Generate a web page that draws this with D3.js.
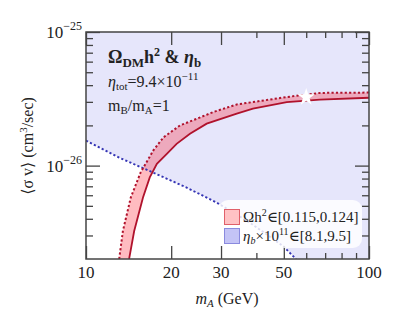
<!DOCTYPE html>
<html><head><meta charset="utf-8">
<script src="https://cdn.jsdelivr.net/npm/d3@7"></script>
<style>
body{margin:0;background:#fff}
svg text, svg tspan{font-family:"Liberation Serif","Times New Roman","DejaVu Serif",serif;fill:#222}
</style>
</head><body>
<svg id="c" width="399" height="319" font-family="Liberation Serif, DejaVu Serif, serif"></svg>
<script>
// ---- data ----
// relic band edge, upper/left (dotted)
const relicDotM  = [13.1,13.5,14.4,15.6,17.3,18.8,21.5,24.6,28.2,34.1,38.9,51.2,67.1,100];
const relicDotSV = [2.0e-27,3.24e-27,5.78e-27,8.9e-27,1.30e-26,1.63e-26,2.0e-26,2.24e-26,2.52e-26,2.87e-26,2.99e-26,3.26e-26,3.50e-26,3.52e-26];
// relic band edge, lower/right (solid)
const relicSolM  = [14.2,14.8,15.9,16.8,17.8,19.3,20.9,23.3,26.7,34.1,38.9,51.2,67.1,100];
const relicSolSV = [2.0e-27,3.24e-27,5.78e-27,8.17e-27,1.03e-26,1.225e-26,1.456e-26,1.73e-26,2.06e-26,2.45e-26,2.67e-26,2.99e-26,3.12e-26,3.22e-26];
// eta_b boundary (blue dotted)
const etaM  = [10,13.1,17.2,22.6,28.9,38.0,49.7,55.2];
const etaSV = [1.54e-26,1.148e-26,8.9e-27,6.87e-27,5.3e-27,3.73e-27,2.5e-27,2.0e-27];
// benchmark star
const starM = [60], starSV = [3.25e-26];
// ticks
const xMajor = [10,20,30,50,100];
const xMinor = [40,60,70,80,90];
const yMajor = [1e-26,1e-25];
const yMinor = [3e-27,4e-27,5e-27,6e-27,7e-27,8e-27,9e-27,2e-26,3e-26,4e-26,5e-26,6e-26,7e-26,8e-26,9e-26];
const yLabelExp = ["−26","−25"];

// ---- layout ----
const L=86,R=369,T=32,B=259;
const svg=d3.select("#c");
const x=d3.scaleLog().domain([10,100]).range([L,R]);
const y=d3.scaleLog().domain([2e-27,1e-25]).range([B,T]);

svg.append("clipPath").attr("id","clip").append("rect")
  .attr("x",L).attr("y",T).attr("width",R-L).attr("height",B-T);
const g=svg.append("g").attr("clip-path","url(#clip)");

g.append("rect").attr("x",L).attr("y",T).attr("width",R-L).attr("height",B-T).attr("fill","#fff");

const zip=(a,b)=>a.map((v,i)=>[v,b[i]]);
const line=d3.line().x(d=>x(d[0])).y(d=>y(d[1]));

// eta region (above blue line)
const etaPts=zip(etaM,etaSV);
const xd=x.domain(), yd=y.domain();
const etaPoly=etaPts.concat([[xd[1],yd[0]],[xd[1],yd[1]],[xd[0],yd[1]]]);
g.append("path").attr("d",line(etaPoly)+"Z").attr("fill","#e6e6fb");

// relic band
const dotPts=zip(relicDotM,relicDotSV), solPts=zip(relicSolM,relicSolSV);
g.append("path").attr("d",line(dotPts.concat(solPts.slice().reverse()))+"Z")
  .attr("fill","rgba(255,10,30,0.28)");

// lines
g.append("path").attr("d",line(etaPts)).attr("fill","none")
  .attr("stroke","#3434b4").attr("stroke-width",1.9).attr("stroke-dasharray","2.2,2.2");
g.append("path").attr("d",line(solPts)).attr("fill","none")
  .attr("stroke","#b0122c").attr("stroke-width",1.8);
g.append("path").attr("d",line(dotPts)).attr("fill","none")
  .attr("stroke","#b0122c").attr("stroke-width",2).attr("stroke-dasharray","2.2,2.2");

// star
g.selectAll(".star").data(zip(starM,starSV)).enter().append("path")
  .attr("d",d3.symbol().type(d3.symbolStar).size(95))
  .attr("transform",d=>`translate(${x(d[0])},${y(d[1])})`)
  .attr("fill","#fff");

// ---- axes ----
function styleAx(sel){sel.select(".domain").remove();
  sel.selectAll("line").attr("stroke","#444").attr("stroke-width",1.3);
  sel.selectAll("text").remove();}
svg.append("g").attr("transform",`translate(0,${B})`).call(d3.axisBottom(x).tickValues(xMajor).tickSize(-13)).call(styleAx);
svg.append("g").attr("transform",`translate(0,${B})`).call(d3.axisBottom(x).tickValues(xMinor).tickSize(-6)).call(styleAx);
svg.append("g").attr("transform",`translate(0,${T})`).call(d3.axisTop(x).tickValues(xMajor).tickSize(-13)).call(styleAx);
svg.append("g").attr("transform",`translate(0,${T})`).call(d3.axisTop(x).tickValues(xMinor).tickSize(-6)).call(styleAx);
svg.append("g").attr("transform",`translate(${L},0)`).call(d3.axisLeft(y).tickValues(yMajor).tickSize(-14)).call(styleAx);
svg.append("g").attr("transform",`translate(${L},0)`).call(d3.axisLeft(y).tickValues(yMinor).tickSize(-7)).call(styleAx);
svg.append("g").attr("transform",`translate(${R},0)`).call(d3.axisRight(y).tickValues(yMajor).tickSize(-14)).call(styleAx);
svg.append("g").attr("transform",`translate(${R},0)`).call(d3.axisRight(y).tickValues(yMinor).tickSize(-7)).call(styleAx);

svg.append("rect").attr("x",L).attr("y",T).attr("width",R-L).attr("height",B-T)
  .attr("fill","none").attr("stroke","#444").attr("stroke-width",1.5);

// x tick labels
svg.selectAll(".xl").data(xMajor).enter().append("text")
  .attr("x",d=>x(d)).attr("y",B+19).attr("text-anchor","middle")
  .attr("font-size",17).text(d=>d);
// y tick labels
yMajor.forEach((v,i)=>{
  const t=svg.append("text").attr("x",L-4).attr("y",y(v)+6).attr("text-anchor","end").attr("font-size",17);
  t.append("tspan").text("10");
  t.append("tspan").attr("font-size",12).attr("dy",-8).text(yLabelExp[i]);
});

// axis titles
const xt=svg.append("text").attr("x",227).attr("y",304).attr("text-anchor","middle").attr("font-size",16);
xt.append("tspan").attr("font-style","italic").text("m");
xt.append("tspan").attr("font-style","italic").attr("font-size",11).attr("dy",3).text("A");
xt.append("tspan").attr("dy",-3).text(" (GeV)");

const yt=svg.append("text").attr("transform","translate(33,146) rotate(-90)").attr("text-anchor","middle").attr("font-size",16);
yt.append("tspan").text("⟨σ v⟩ (cm");
yt.append("tspan").attr("font-size",11).attr("dy",-6).text("3");
yt.append("tspan").attr("dy",6).text("/sec)");

// annotations
const t1=svg.append("text").attr("x",108).attr("y",63).attr("font-size",18).attr("font-weight","bold");
t1.append("tspan").text("Ω");
t1.append("tspan").attr("font-size",13).attr("dy",4).text("DM");
t1.append("tspan").attr("dy",-4).text("h");
t1.append("tspan").attr("font-size",12).attr("dy",-7).text("2");
t1.append("tspan").attr("dy",7).text(" & ");
t1.append("tspan").attr("font-style","italic").text("η");
t1.append("tspan").attr("font-size",13).attr("dy",4).text("b");

const t2=svg.append("text").attr("x",108).attr("y",87).attr("font-size",16);
t2.append("tspan").attr("font-style","italic").text("η");
t2.append("tspan").attr("font-size",11).attr("dy",3).text("tot");
t2.append("tspan").attr("dy",-3).text("=9.4×10");
t2.append("tspan").attr("font-size",11).attr("dy",-7).text("−11");

const t3=svg.append("text").attr("x",108).attr("y",111).attr("font-size",16);
t3.append("tspan").text("m");
t3.append("tspan").attr("font-size",11).attr("dy",3).text("B");
t3.append("tspan").attr("dy",-3).text("/m");
t3.append("tspan").attr("font-size",11).attr("dy",3).text("A");
t3.append("tspan").attr("dy",-3).text("=1");

// legend
const lg=svg.append("g");
lg.append("rect").attr("x",219).attr("y",200).attr("width",143).attr("height",48).attr("rx",9)
  .attr("fill","rgba(255,255,255,0.82)");
lg.append("rect").attr("x",224.5).attr("y",209.5).attr("width",15).attr("height",15)
  .attr("fill","#ffc2c4").attr("stroke","#e0606a").attr("stroke-width",1);
lg.append("rect").attr("x",224.5).attr("y",228.5).attr("width",15).attr("height",15)
  .attr("fill","#c4c4f6").attr("stroke","#8a8ade").attr("stroke-width",1);
const l1=lg.append("text").attr("x",243).attr("y",222).attr("font-size",15);
l1.append("tspan").text("Ωh");
l1.append("tspan").attr("font-size",10).attr("dy",-6).text("2");
l1.append("tspan").attr("dy",6).text("∈[0.115,0.124]");
const l2=lg.append("text").attr("x",243).attr("y",241).attr("font-size",15);
l2.append("tspan").attr("font-style","italic").text("η");
l2.append("tspan").attr("font-style","italic").attr("font-size",10).attr("dy",3).text("b");
l2.append("tspan").attr("dy",-3).text("×10");
l2.append("tspan").attr("font-size",10).attr("dy",-6).text("11");
l2.append("tspan").attr("dy",6).text("∈[8.1,9.5]");
</script>
</body></html>
